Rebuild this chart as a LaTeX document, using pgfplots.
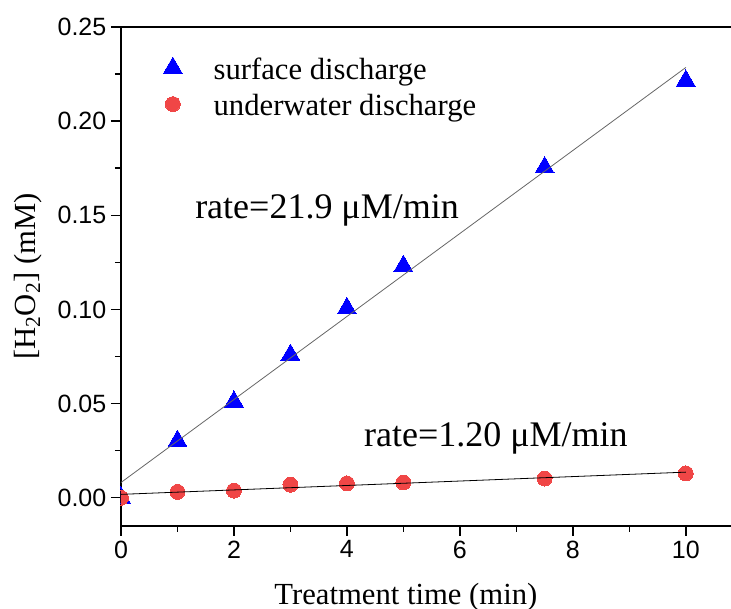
\documentclass[border=0pt]{standalone}
\usepackage{fontspec}
\setmainfont{Liberation Serif}
\setsansfont{Liberation Sans}
\usepackage{pgfplots}
\pgfplotsset{compat=1.18}
\definecolor{surfblue}{RGB}{0,0,255}
\definecolor{uwred}{RGB}{240,70,70}

\begin{document}
\begin{tikzpicture}
\useasboundingbox (-90.75pt,-62.25pt) rectangle (457.5pt,394.5pt);
\begin{axis}[
  at={(0,0)}, anchor=south west,
  scale only axis, width=457.5pt, height=374.25pt,
  xmin=0, xmax=10.8, ymin=-0.015, ymax=0.25,
  axis x line*=bottom, axis y line*=left,
  axis line style={line width=1.2pt},
  xtick={0,2,4,6,8,10}, ytick={0,0.05,0.1,0.15,0.2,0.25},
  minor x tick num=1, minor y tick num=1,
  tick align=outside,
  major tick length=7.5pt, minor tick length=4.5pt,
  every tick/.style={line width=1.1pt, black},
  tick label style={font=\sffamily\fontsize{18.75}{22}\selectfont},
  /pgf/number format/assume math mode=true,
  yticklabel style={/pgf/number format/.cd, fixed, fixed zerofill, precision=2},
  xlabel={Treatment time (min)},
  ylabel={[H\textsubscript{2}O\textsubscript{2}] (mM)},
  label style={font=\fontsize{23}{27}\selectfont},
  xlabel style={at={(axis description cs:0.467,0)}, anchor=base, yshift=-59.25pt},
  ylabel style={at={(axis description cs:-0.153,0.5)}, anchor=center},
  clip marker paths=true,
  legend cell align=left,
  legend image code/.code={\draw[#1] plot coordinates {(0pt,1pt)};
    \path[draw=none, fill=none] (0pt,-0.05pt) rectangle (28.6pt,0.05pt);},
  legend style={draw=none, fill=none, at={(axis description cs:0.0625,0.95)},
    anchor=north west, font=\fontsize{23}{27}\selectfont, row sep=5.5pt},
]
% measured concentrations
\addplot[only marks, color=surfblue, mark=triangle*, mark size=8.2pt,
  mark options={draw=surfblue, fill=surfblue, line width=0pt}]
  coordinates {(0,0) (1,0.0301) (2,0.0510) (3,0.0758) (4,0.1006)
               (5,0.1230) (7.5,0.1754) (10,0.2214)};
\addlegendentry{surface discharge}
\addplot[only marks, color=uwred, mark=*, mark size=5.6pt,
  mark options={draw=uwred, fill=uwred, line width=0pt}]
  coordinates {(0,0) (1,0.0031) (2,0.0038) (3,0.0069) (4,0.0076)
               (5,0.0081) (7.5,0.0102) (10,0.0129)};
\addlegendentry{underwater discharge}
% linear fits
\addplot[forget plot, no marks, line width=0.6pt, black!60]
  coordinates {(0,0.0081) (10,0.2285)};
\addplot[forget plot, no marks, line width=0.6pt, black]
  coordinates {(0,0.0018) (10,0.0136)};
\node[anchor=base west, inner sep=0pt, font=\fontsize{27}{32}\selectfont]
  at (axis cs:1.31,0.1485) {rate=21.9 μM/min};
\node[anchor=base west, inner sep=0pt, font=\fontsize{27}{32}\selectfont]
  at (axis cs:4.30,0.0272) {rate=1.20 μM/min};
\end{axis}
\draw[line width=1.2pt] (current axis.north west) -- (current axis.north east);
\end{tikzpicture}
\end{document}
